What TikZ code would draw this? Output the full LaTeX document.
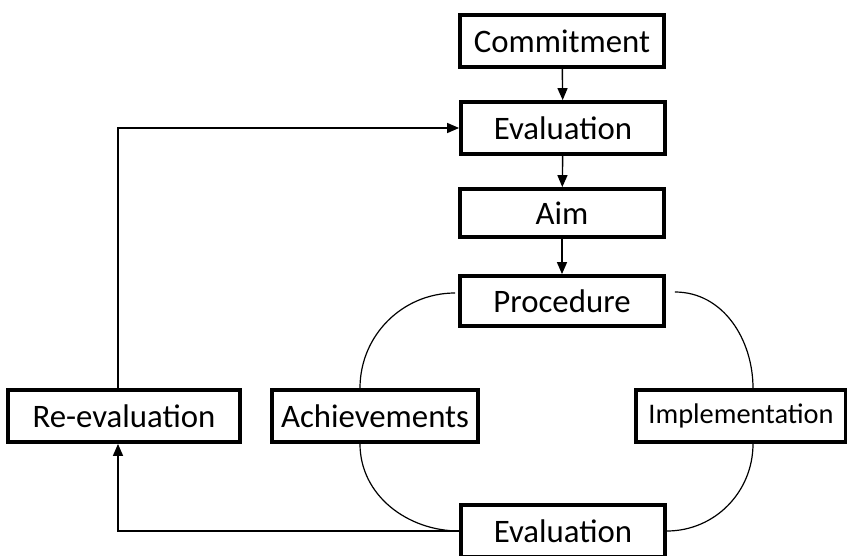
\documentclass[tikz,border=0pt]{standalone}
\usepackage{fontspec}
\setmainfont{Carlito}
\usetikzlibrary{arrows.meta,positioning,calc}

\begin{document}
\begin{tikzpicture}[x=0.5pt,y=-0.5pt,
  box/.style={rectangle,draw,line width=1.9pt,minimum width=102pt,
              minimum height=26pt,inner sep=0pt,text centered,
              font=\fontsize{16.4}{19}\selectfont},
  arrow/.style={-{Triangle[length=6pt,width=5pt]},line width=0.7pt},
  curve/.style={line width=0.6pt}
]
\useasboundingbox (0,0) rectangle (847,556);
\node[box] (commit) at (562,41) {Commitment};
\node[box] (eval1) at (563,128) {Evaluation};
\node[box,minimum height=24pt] (aim) at (562,213) {Aim};
\node[box,minimum height=25pt] (proc) at (562,301) {Procedure};
\node[box,minimum width=116pt] (reeval) at (124,416) {Re-evaluation};
\node[box,minimum width=103pt] (achieve) at (375,416) {Achievements};
\node[box,minimum width=105pt,font=\fontsize{14.2}{17}\selectfont] (impl) at (741,416) {Implementation};
\node[box] (eval2) at (563,531) {Evaluation};

\draw[arrow] (commit) -- (eval1);
\draw[arrow] (eval1) -- (aim);
\draw[arrow] (aim) -- (proc);
\draw[arrow] ([xshift=-3pt]reeval.north) |- (eval1.west);
\draw[arrow] (eval2.west) -| ([xshift=-3pt]reeval.south);

\draw[curve] ([xshift=-1.5pt,yshift=4pt]proc.west) to[out=180,in=90] ([xshift=-7.5pt]achieve.north);
\draw[curve] ([xshift=-7.5pt]achieve.south) to[out=-90,in=180] (eval2.west);
\draw[curve] ([xshift=4.5pt,yshift=4.5pt]proc.east) to[out=0,in=90] ([xshift=6pt]impl.north);
\draw[curve] ([xshift=6pt]impl.south) to[out=-90,in=0] (eval2.east);
\end{tikzpicture}
\end{document}
